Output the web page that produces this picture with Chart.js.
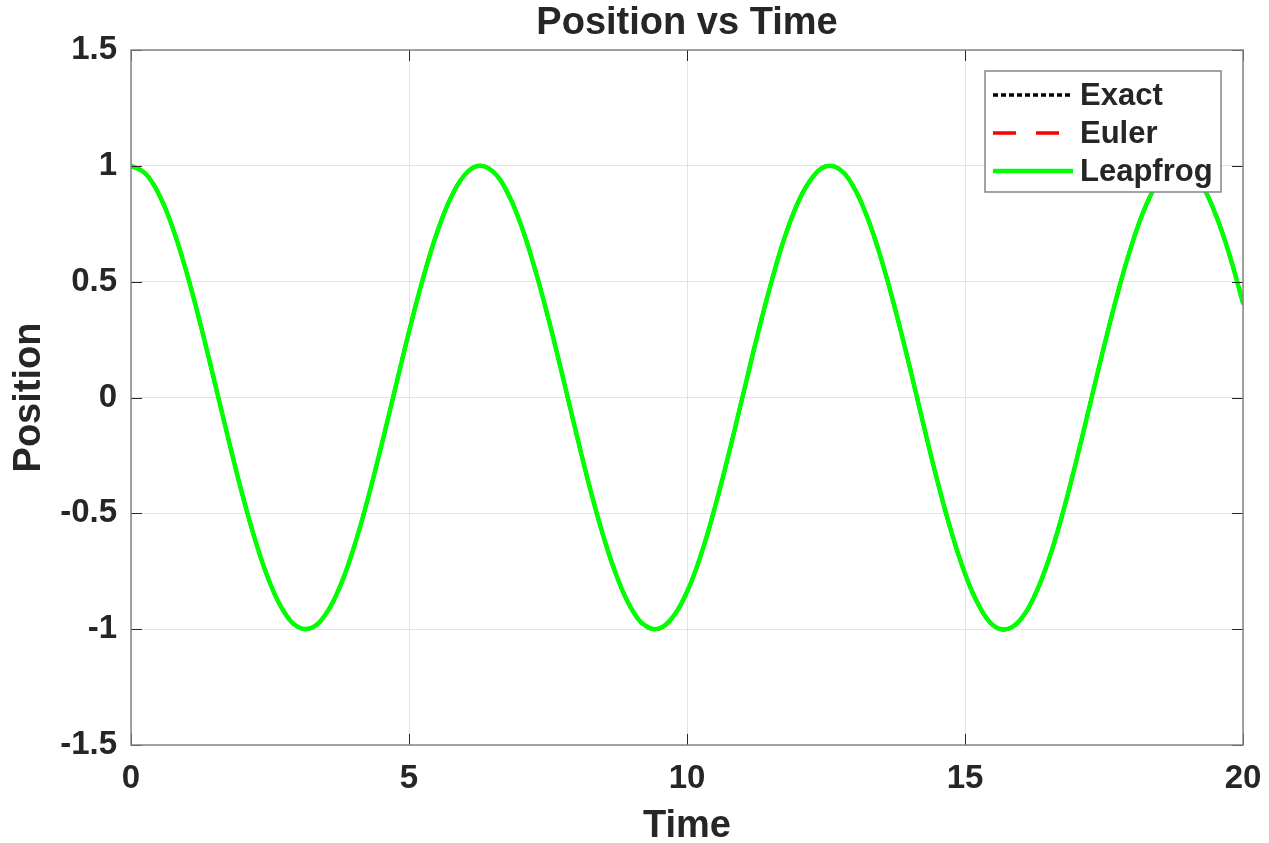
<!DOCTYPE html>
<html>
<head>
<meta charset="utf-8">
<title>Position vs Time</title>
<script src="https://cdn.jsdelivr.net/npm/chart.js@4.4.1/dist/chart.umd.min.js"></script>
<style>
    html, body { margin: 0; padding: 0; background: #ffffff; }
    #wrap { width: 1269px; height: 843px; }
</style>
</head>
<body>
<div id="wrap"><canvas id="positionChart" width="1269" height="843"></canvas></div>
<script>
// time samples
const timeValues = [
    0, 0.25, 0.5, 0.75, 1, 1.25, 1.5, 1.75, 2, 2.25, 2.5, 2.75, 3, 3.25, 3.5, 3.75,
    4, 4.25, 4.5, 4.75, 5, 5.25, 5.5, 5.75, 6, 6.25, 6.5, 6.75, 7, 7.25, 7.5, 7.75,
    8, 8.25, 8.5, 8.75, 9, 9.25, 9.5, 9.75, 10, 10.25, 10.5, 10.75, 11, 11.25, 11.5, 11.75,
    12, 12.25, 12.5, 12.75, 13, 13.25, 13.5, 13.75, 14, 14.25, 14.5, 14.75, 15, 15.25, 15.5, 15.75,
    16, 16.25, 16.5, 16.75, 17, 17.25, 17.5, 17.75, 18, 18.25, 18.5, 18.75, 19, 19.25, 19.5, 19.75, 20
];

// position (the three methods sit on top of each other)
const positionValues = [
    1.000, 0.969, 0.878, 0.732, 0.540, 0.315, 0.071, -0.178, -0.416, -0.628, -0.801, -0.924, -0.990, -0.994, -0.936, -0.821,
    -0.654, -0.446, -0.211, 0.037, 0.284, 0.512, 0.709, 0.861, 0.960, 1.000, 0.977, 0.894, 0.754, 0.567, 0.347, 0.105,
    -0.146, -0.387, -0.602, -0.780, -0.911, -0.985, -0.997, -0.946, -0.839, -0.680, -0.476, -0.244, 0.004, 0.252, 0.483, 0.686,
    0.844, 0.948, 0.998, 0.984, 0.907, 0.773, 0.592, 0.376, 0.137, -0.114, -0.357, -0.576, -0.760, -0.898, -0.982, -1.000,
    -0.958, -0.857, -0.704, -0.506, -0.275, -0.028, 0.220, 0.454, 0.660, 0.826, 0.940, 0.995, 0.989, 0.921, 0.795, 0.621, 0.408
];

const exactValues = positionValues;
const eulerValues = positionValues;
const leapfrogValues = positionValues;

const seriesNames = ['Exact', 'Euler', 'Leapfrog'];
const yTicks = [-1.5, -1, -0.5, 0, 0.5, 1, 1.5];
const xTicks = [0, 5, 10, 15, 20];

const FONT = '"Liberation Sans", Arial, Helvetica, sans-serif';
const TEXT = '#262626';

function toPoints(values) {
    return timeValues.map((t, i) => ({ x: t, y: values[i] }));
}

// MATLAB style frame: box on all sides, inward ticks, legend in the top right corner
const matlabFrame = {
    id: 'matlabFrame',
    afterDatasetsDraw(chart) {
        const ctx = chart.ctx;
        const area = chart.chartArea;
        const xs = chart.scales.x;
        const ys = chart.scales.y;
        ctx.save();

        ctx.strokeStyle = '#262626';
        ctx.lineWidth = 1;
        const tickLen = 11;
        ctx.beginPath();
        xTicks.forEach(v => {
            const px = Math.round(xs.getPixelForValue(v)) + 0.5;
            ctx.moveTo(px, area.bottom); ctx.lineTo(px, area.bottom - tickLen);
            ctx.moveTo(px, area.top); ctx.lineTo(px, area.top + tickLen);
        });
        yTicks.forEach(v => {
            const py = Math.round(ys.getPixelForValue(v)) + 0.5;
            ctx.moveTo(area.left, py); ctx.lineTo(area.left + tickLen, py);
            ctx.moveTo(area.right, py); ctx.lineTo(area.right - tickLen, py);
        });
        ctx.stroke();

        ctx.strokeStyle = '#858585';
        ctx.lineWidth = 1.5;
        ctx.strokeRect(area.left, area.top, area.right - area.left, area.bottom - area.top);
        ctx.restore();
    },
    afterDraw(chart) {
        const ctx = chart.ctx;
        const area = chart.chartArea;
        ctx.save();

        // title
        ctx.fillStyle = TEXT;
        ctx.font = 'bold 38px ' + FONT;
        ctx.textAlign = 'center';
        ctx.textBaseline = 'middle';
        ctx.fillText('Position vs Time', (area.left + area.right) / 2, 24);

        // legend
        const boxX = 985, boxY = 71, boxW = 236, boxH = 121;
        ctx.fillStyle = '#ffffff';
        ctx.fillRect(boxX, boxY, boxW, boxH);
        ctx.strokeStyle = '#858585';
        ctx.lineWidth = 1.5;
        ctx.strokeRect(boxX, boxY, boxW, boxH);

        const rows = [95, 133, 171];
        ctx.font = 'bold 31px ' + FONT;
        ctx.textAlign = 'left';
        chart.data.datasets.forEach((ds, i) => {
            const y = rows[i];
            ctx.beginPath();
            ctx.strokeStyle = ds.borderColor;
            ctx.lineWidth = i === 2 ? 4.5 : 3.5;
            ctx.setLineDash(ds.legendDash);
            ctx.moveTo(993, y);
            ctx.lineTo(1073, y);
            ctx.stroke();
            ctx.setLineDash([]);
            ctx.fillStyle = TEXT;
            ctx.fillText(ds.label, 1080, y + 1);
        });
        ctx.restore();
    }
};

const ctx = document.getElementById('positionChart').getContext('2d');

new Chart(ctx, {
    type: 'line',
    data: {
        datasets: [
            {
                label: seriesNames[0],
                data: toPoints(exactValues),
                borderColor: '#000000',
                borderWidth: 3.5,
                borderDash: [4, 3],
                legendDash: [5, 3],
                order: 2
            },
            {
                label: seriesNames[1],
                data: toPoints(eulerValues),
                borderColor: '#ff0000',
                borderWidth: 3.5,
                borderDash: [22, 20],
                legendDash: [23, 20],
                order: 1
            },
            {
                label: seriesNames[2],
                data: toPoints(leapfrogValues),
                borderColor: '#00ff00',
                borderWidth: 4.5,
                legendDash: [],
                order: 0
            }
        ]
    },
    options: {
        responsive: false,
        animation: false,
        devicePixelRatio: 1,
        layout: {
            padding: { top: 50, right: 26, left: 0, bottom: 0 }
        },
        elements: {
            point: { radius: 0 },
            line: { tension: 0.4, borderCapStyle: 'round' }
        },
        plugins: {
            legend: { display: false },
            title: { display: false },
            tooltip: { enabled: false }
        },
        scales: {
            x: {
                type: 'linear',
                min: 0,
                max: 20,
                afterFit: (scale) => {
                    scale.height = 98;
                    scale.paddingLeft = 0;
                    scale.paddingRight = 0;
                },
                afterBuildTicks: (scale) => { scale.ticks = xTicks.map(v => ({ value: v })); },
                grid: { color: '#e3e3e3', lineWidth: 1, drawTicks: false },
                border: { display: false },
                ticks: {
                    padding: 14,
                    color: TEXT,
                    font: { family: FONT, size: 33, weight: 'bold' },
                    callback: (v) => String(v)
                },
                title: {
                    display: true,
                    text: 'Time',
                    color: TEXT,
                    padding: { top: 0, bottom: -3 },
                    font: { family: FONT, size: 38, weight: 'bold', lineHeight: 1 }
                }
            },
            y: {
                type: 'linear',
                min: -1.5,
                max: 1.5,
                afterFit: (scale) => {
                    scale.width = 131;
                    scale.paddingTop = 0;
                    scale.paddingBottom = 0;
                },
                afterBuildTicks: (scale) => { scale.ticks = yTicks.map(v => ({ value: v })); },
                grid: { color: '#e3e3e3', lineWidth: 1, drawTicks: false },
                border: { display: false },
                ticks: {
                    padding: 14,
                    color: TEXT,
                    font: { family: FONT, size: 33, weight: 'bold' },
                    callback: (v) => String(v)
                },
                title: {
                    display: true,
                    text: 'Position',
                    color: TEXT,
                    padding: { top: 11, bottom: 0 },
                    font: { family: FONT, size: 38, weight: 'bold', lineHeight: 1 }
                }
            }
        }
    },
    plugins: [matlabFrame]
});
</script>
</body>
</html>
